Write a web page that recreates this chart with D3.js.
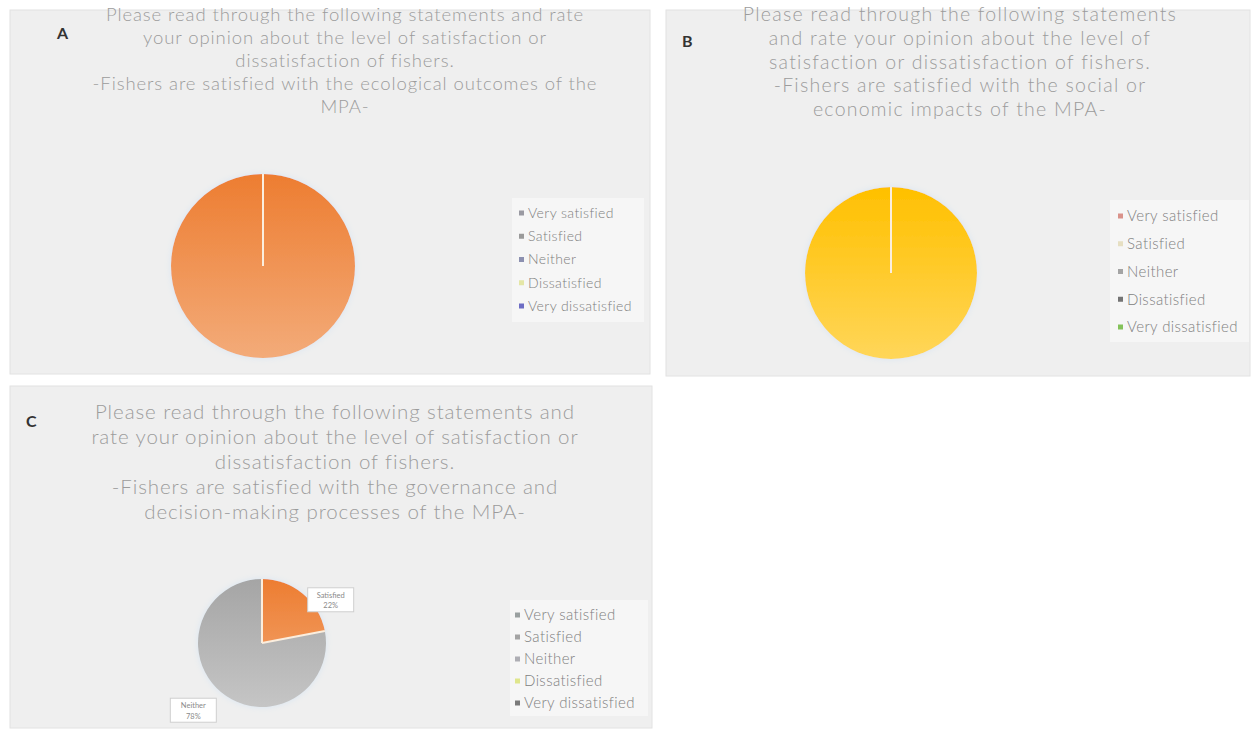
<!DOCTYPE html>
<html><head><meta charset="utf-8">
<script src="https://cdn.jsdelivr.net/npm/d3@7"></script>
<style>
html,body{margin:0;padding:0;background:#ffffff;}
svg{display:block;font-family:Lato,"Open Sans",sans-serif;}
</style></head>
<body>
<svg id="chart" width="1256" height="732"></svg>
<script>
// ---- data ----
const categories = ["Very satisfied", "Satisfied", "Neither", "Dissatisfied", "Very dissatisfied"];
const valuesA = [0, 100, 0, 0, 0];
const valuesB = [0, 0, 0, 100, 0];
const valuesC = [0, 22, 78, 0, 0];
const sliceColors = ["#4472C4", "#ED7D31", "#A5A5A5", "#FFC000", "#5B9BD5"];
const legendColorsA = ["#9a9aa2", "#9a9a9a", "#8c90b0", "#e4e6a6", "#6d6dc4"];
const legendColorsB = ["#d9928a", "#e6dfc2", "#a4a4a4", "#747474", "#84c25a"];
const legendColorsC = ["#9aa0a0", "#a4a4a4", "#aeaeb4", "#dfe68c", "#7a7a7a"];
const titleA = ["Please read through the following statements and rate",
  "your opinion about the level of satisfaction or",
  "dissatisfaction of fishers.",
  "-Fishers are satisfied with the ecological outcomes of the",
  "MPA-"];
const titleB = ["Please read through the following statements",
  "and rate your opinion about the level of",
  "satisfaction or dissatisfaction of fishers.",
  "-Fishers are satisfied with the social or",
  "economic impacts of the MPA-"];
const titleC = ["Please read through the following statements and",
  "rate your opinion about the level of satisfaction or",
  "dissatisfaction of fishers.",
  "-Fishers are satisfied with the governance and",
  "decision-making processes of the MPA-"];

const svg = d3.select("#chart");
const defs = svg.append("defs");
const f = defs.append("filter").attr("id","glow").attr("x","-20%").attr("y","-20%").attr("width","140%").attr("height","140%");
f.append("feDropShadow").attr("dx",0).attr("dy",0).attr("stdDeviation",3)
  .attr("flood-color","#d6e4f2").attr("flood-opacity",0.9);

const color = d3.scaleOrdinal().domain(categories).range(sliceColors);

function panel(cfg){
  const g = svg.append("g");
  g.append("rect").attr("x",cfg.box[0]).attr("y",cfg.box[1]).attr("width",cfg.box[2]).attr("height",cfg.box[3])
    .attr("fill","#efefef").attr("stroke","#e2e2e2").attr("stroke-width",1);
  // letter
  g.append("text").attr("x",cfg.letter[0]).attr("y",cfg.letter[1]).text(cfg.letterText)
    .attr("font-size",16).attr("font-weight","bold").attr("fill","#333");
  // title
  const t = g.append("text").attr("text-anchor","middle").attr("fill","#9c9c9c")
    .attr("font-size",cfg.titleSize).attr("font-weight",300).attr("letter-spacing",cfg.titleLS);
  cfg.title.forEach((line,i)=>{
    t.append("tspan").attr("x",cfg.titleX).attr("y",cfg.titleY + i*cfg.titleLH).text(line);
  });
  // legend box
  g.append("rect").attr("x",cfg.legBox[0]).attr("y",cfg.legBox[1]).attr("width",cfg.legBox[2]).attr("height",cfg.legBox[3])
    .attr("fill","#f6f6f6");
  const legY = d3.scalePoint().domain(categories).range([cfg.legY0, cfg.legY1]);
  const lg = g.append("g");
  categories.forEach((c,i)=>{
    lg.append("rect").attr("x",cfg.legX-3).attr("y",legY(c)-2.5).attr("width",5).attr("height",5).attr("fill",cfg.legColors[i]);
    lg.append("text").attr("x",cfg.legX+6).attr("y",legY(c)).attr("dy","0.35em")
      .attr("font-size",cfg.legSize).attr("font-weight",300).attr("letter-spacing",0.4)
      .attr("fill","#808080").text(c);
  });
  // pie
  const data = categories.map((c,i)=>({cat:c, value:cfg.values[i]}));
  const pie = d3.pie().sort(null).value(d=>d.value);
  const arcs = pie(data).filter(a=>a.value>0);
  const arc = d3.arc().innerRadius(0).outerRadius(cfg.r);
  const pg = g.append("g").attr("transform",`translate(${cfg.cx},${cfg.cy})`);
  arcs.forEach(a=>{
    const id = "grad"+cfg.letterText+a.index;
    const base = color(a.data.cat);
    const gr = defs.append("linearGradient").attr("id",id).attr("gradientUnits","userSpaceOnUse")
      .attr("x1",0).attr("y1",-cfg.r).attr("x2",0).attr("y2",cfg.r);
    gr.append("stop").attr("offset","0%").attr("stop-color",base);
    gr.append("stop").attr("offset","100%").attr("stop-color",d3.interpolateRgb(base,"#ffffff")(0.35));
    a.grad = id;
  });
  pg.append("g").attr("filter","url(#glow)").selectAll("path").data(arcs).join("path")
    .attr("d",arc).attr("fill",d=>`url(#${d.grad})`);
  // slice borders (start edges)
  pg.selectAll("line.sep").data(arcs).join("line").attr("class","sep")
    .attr("x1",0).attr("y1",0)
    .attr("x2",d=>Math.sin(d.startAngle)*cfg.r).attr("y2",d=>-Math.cos(d.startAngle)*cfg.r)
    .attr("stroke","#fbeede").attr("stroke-width",2);
  // data labels
  if(cfg.labels){
    arcs.forEach(a=>{
      const mid = (a.startAngle+a.endAngle)/2;
      const px = Math.sin(mid)*cfg.r*1.12, py = -Math.cos(mid)*cfg.r*1.12;
      const w = cfg.labW, h = cfg.labH;
      const bx = Math.sin(mid)>=0 ? px : px-w;
      const by = py;
      pg.append("rect").attr("x",bx).attr("y",by).attr("width",w).attr("height",h)
        .attr("fill","#ffffff").attr("stroke","#cfcfcf").attr("stroke-width",1);
      const tt = pg.append("text").attr("text-anchor","middle").attr("font-size",7.5).attr("fill","#8a8a8a");
      tt.append("tspan").attr("x",bx+w/2).attr("y",by+h*0.42).text(a.data.cat);
      tt.append("tspan").attr("x",bx+w/2).attr("y",by+h*0.85).text(a.value+"%");
    });
  }
}

panel({box:[10,10,640,364], letter:[57,39], letterText:"A",
  title:titleA, titleX:345, titleY:21, titleLH:23, titleSize:18.5, titleLS:0.9,
  values:valuesA, cx:263, cy:266, r:92,
  legBox:[512,198,132,124], legX:522, legY0:213, legY1:306, legSize:14, legColors:legendColorsA});
panel({box:[666,10,584,366], letter:[682,47], letterText:"B",
  title:titleB, titleX:960, titleY:21, titleLH:23.75, titleSize:19.5, titleLS:1.25,
  values:valuesB, cx:891, cy:273, r:86,
  legBox:[1110,200,139,142], legX:1121, legY0:216, legY1:327, legSize:15, legColors:legendColorsB});
panel({box:[10,386,642,342], letter:[26,427], letterText:"C",
  title:titleC, titleX:335, titleY:419, titleLH:25, titleSize:20.5, titleLS:0.9,
  values:valuesC, cx:262, cy:643, r:64,
  legBox:[510,600,138,116], legX:518, legY0:615, legY1:703, legSize:15, legColors:legendColorsC,
  labels:true, labW:46, labH:24});
</script>
</body></html>
